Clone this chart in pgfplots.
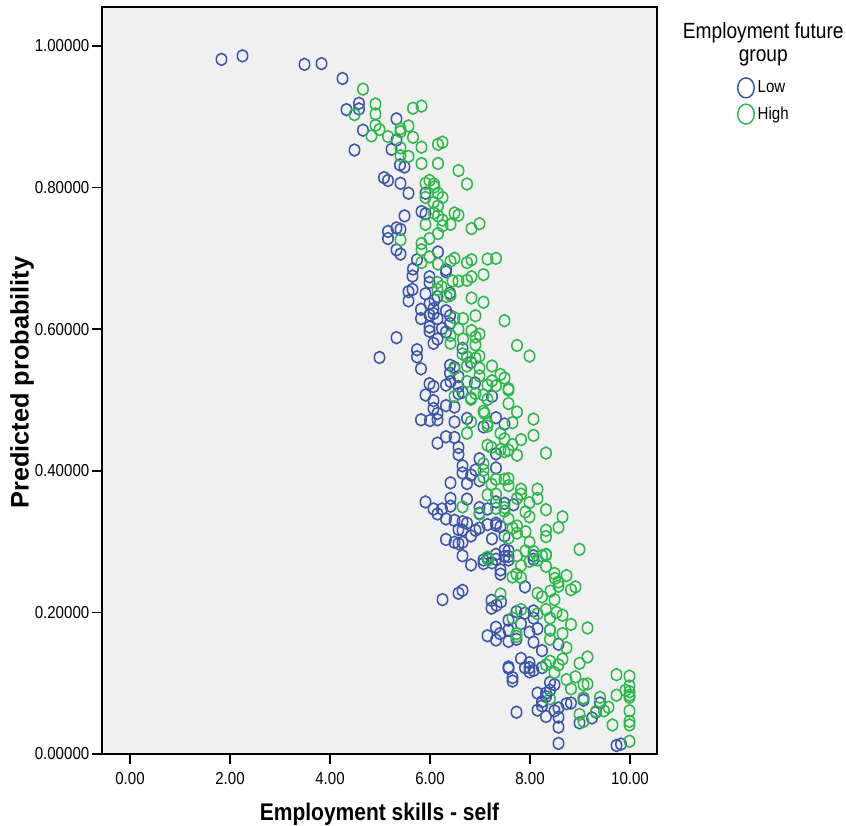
\documentclass[border=0pt]{standalone}
\usepackage{pgfplots}
\usepackage{fontspec}
\pgfplotsset{compat=1.18}
\setmainfont{Liberation Sans}[FakeStretch=0.87]
\newfontfamily\ylfont{Liberation Sans}[FakeStretch=1.0]
\definecolor{lowc}{HTML}{3B55A8}
\definecolor{highc}{HTML}{2DB84A}
\definecolor{bgc}{HTML}{F0F0F0}
\begin{document}
\begin{tikzpicture}
\useasboundingbox (0,0) rectangle (634.5pt,618.75pt);
\begin{axis}[
  at={(76.5pt,53.25pt)}, anchor=south west,
  scale only axis, width=416.25pt, height=560.25pt,
  xmin=-0.56, xmax=10.54, ymin=0, ymax=1.055,
  clip=false,
  axis background/.style={fill=bgc},
  axis line style={line width=1.1pt, black},
  tick style={line width=1.1pt, black},
  tick align=outside, major tick length=7.5pt,
  xtick={0,2,4,6,8,10}, ytick={0,0.2,0.4,0.6,0.8,1},
  xtick pos=bottom, ytick pos=left,
  xticklabel style={yshift=-2.5pt, /pgf/number format/.cd, fixed, fixed zerofill, precision=2, assume math mode=true},
  yticklabel style={xshift=1.5pt, /pgf/number format/.cd, fixed, fixed zerofill, precision=5, assume math mode=true},
  scaled y ticks=false,
  tick label style={font=\fontsize{13pt}{15pt}\selectfont},
  xlabel={\fontsize{18.1pt}{20pt}\selectfont\bfseries Employment skills - self},
  ylabel={\ylfont\fontsize{19pt}{21pt}\selectfont\bfseries Predicted probability},
  xlabel style={at={(axis description cs:0.5,0)}, anchor=center, yshift=-45pt},
  ylabel style={at={(axis description cs:0,0.497)}, anchor=center, yshift=60pt},
  legend style={at={(rel axis cs:1.1436,0.9065)}, anchor=north west, draw=none, fill=none,
    font=\fontsize{13pt}{15pt}\selectfont, row sep=3.6pt, inner sep=0pt},
  legend cell align=left,
  legend image code/.code={\draw[#1, solid, line width=1.1pt, fill=none] (0.25cm-3pt,0cm) ellipse [x radius=6.2pt, y radius=7.5pt];},
  every axis plot/.append style={only marks, mark=o, line width=1.15pt, mark size=4.5pt},
]
\addplot[color=lowc, mark options={xscale=0.87, yscale=1.0}] coordinates {
(1.83,0.981)(2.25,0.986)(3.49,0.974)(3.83,0.975)(4.25,0.954)(4.58,0.919)(4.58,0.911)(4.33,0.910)
(4.66,0.881)(4.49,0.853)(5.33,0.897)(5.33,0.867)(5.23,0.854)(5.40,0.832)(5.49,0.829)(5.08,0.814)
(5.16,0.810)(5.41,0.806)(5.57,0.792)(5.91,0.792)(5.83,0.766)(5.91,0.763)(5.49,0.760)(5.16,0.738)
(5.33,0.743)(5.41,0.741)(5.16,0.728)(5.33,0.712)(5.41,0.706)(6.16,0.709)(5.74,0.698)(5.66,0.685)
(6.32,0.684)(5.65,0.675)(6.32,0.681)(5.99,0.674)(5.99,0.666)(5.57,0.653)(5.65,0.656)(5.57,0.640)
(5.91,0.650)(6.15,0.646)(6.40,0.651)(6.09,0.641)(5.99,0.636)(5.82,0.628)(6.07,0.629)(6.32,0.626)
(6.40,0.619)(5.82,0.615)(5.99,0.620)(6.07,0.622)(6.15,0.615)(6.40,0.608)(5.99,0.603)(5.99,0.597)
(6.24,0.601)(6.32,0.596)(6.15,0.586)(6.07,0.580)(5.33,0.588)(4.99,0.560)(5.74,0.571)(5.74,0.561)
(5.82,0.544)(6.65,0.573)(6.40,0.549)(6.82,0.553)(6.49,0.546)(6.40,0.538)(6.57,0.533)(5.99,0.523)
(6.07,0.519)(6.32,0.521)(6.41,0.526)(6.90,0.524)(6.57,0.519)(6.57,0.509)(6.65,0.511)(5.91,0.507)
(6.07,0.499)(7.24,0.505)(6.07,0.488)(6.15,0.481)(6.32,0.492)(6.49,0.490)(5.82,0.472)(6.00,0.471)
(6.15,0.472)(6.49,0.469)(6.74,0.474)(7.32,0.475)(7.07,0.462)(7.49,0.466)(6.32,0.448)(6.49,0.447)
(6.15,0.439)(6.57,0.433)(6.57,0.423)(7.32,0.424)(6.99,0.417)(6.65,0.407)(6.65,0.397)(6.91,0.401)
(6.82,0.394)(6.99,0.386)(7.32,0.404)(6.41,0.383)(6.74,0.382)(6.41,0.361)(6.41,0.350)(6.74,0.360)
(5.91,0.356)(6.07,0.346)(6.24,0.346)(6.15,0.339)(6.32,0.332)(6.49,0.330)(6.65,0.328)(6.74,0.326)
(6.99,0.348)(6.99,0.340)(7.15,0.346)(7.32,0.356)(7.49,0.354)(7.67,0.352)(7.32,0.326)(7.15,0.324)
(7.32,0.323)(6.57,0.317)(6.65,0.316)(6.99,0.319)(6.91,0.316)(6.82,0.308)(6.32,0.303)(6.49,0.299)
(6.57,0.297)(6.65,0.299)(7.24,0.304)(7.49,0.308)(7.41,0.321)(6.65,0.280)(7.32,0.282)(7.49,0.288)
(7.57,0.287)(7.49,0.279)(7.57,0.279)(7.15,0.276)(8.07,0.280)(8.07,0.275)(7.07,0.274)(6.82,0.267)
(7.07,0.269)(7.24,0.270)(7.41,0.260)(7.41,0.254)(7.32,0.275)(7.57,0.274)(7.90,0.236)(6.57,0.227)
(6.65,0.231)(6.25,0.218)(7.23,0.217)(7.33,0.210)(7.23,0.206)(7.42,0.215)(7.73,0.201)(7.90,0.199)
(8.07,0.202)(8.07,0.192)(7.57,0.189)(7.82,0.184)(7.32,0.179)(7.57,0.175)(7.40,0.170)(7.15,0.167)
(7.32,0.161)(7.57,0.159)(7.73,0.162)(7.99,0.172)(8.15,0.177)(8.40,0.175)(8.07,0.158)(8.57,0.155)
(8.24,0.146)(7.82,0.135)(7.99,0.129)(7.57,0.123)(7.57,0.121)(7.90,0.122)(7.99,0.122)(7.99,0.116)
(8.07,0.118)(8.24,0.122)(7.65,0.108)(7.65,0.103)(8.40,0.101)(8.49,0.098)(8.15,0.086)(8.32,0.086)
(8.40,0.090)(8.32,0.081)(8.24,0.074)(8.24,0.068)(8.15,0.062)(8.32,0.053)(8.57,0.065)(8.49,0.061)
(8.57,0.052)(8.57,0.038)(8.57,0.015)(7.73,0.059)(8.73,0.071)(8.82,0.072)(9.07,0.079)(9.07,0.076)
(9.40,0.072)(9.32,0.059)(9.24,0.051)(8.99,0.044)(9.73,0.012)(9.82,0.014)
};
\addlegendentry{Low}
\addplot[color=highc, mark options={xscale=0.87, yscale=1.0}] coordinates {
(4.66,0.939)(4.91,0.918)(4.91,0.904)(4.49,0.903)(4.91,0.888)(4.99,0.882)(4.83,0.873)(5.16,0.872)
(5.41,0.883)(5.41,0.879)(5.57,0.887)(5.66,0.871)(5.66,0.912)(5.83,0.915)(5.41,0.856)(5.83,0.857)
(6.16,0.861)(6.25,0.864)(5.41,0.845)(5.57,0.844)(5.83,0.834)(6.16,0.834)(6.57,0.824)(6.74,0.805)
(5.91,0.806)(5.99,0.810)(6.08,0.805)(6.09,0.801)(5.91,0.786)(6.16,0.792)(6.25,0.786)(6.07,0.779)
(6.16,0.774)(6.49,0.764)(6.57,0.761)(6.08,0.764)(6.16,0.760)(6.25,0.754)(6.25,0.746)(6.41,0.748)
(5.91,0.748)(6.99,0.749)(6.83,0.742)(6.16,0.735)(5.99,0.728)(5.83,0.721)(5.41,0.726)(5.83,0.712)
(5.83,0.694)(5.99,0.702)(6.16,0.692)(6.41,0.696)(6.49,0.700)(6.74,0.694)(6.83,0.698)(7.15,0.699)
(7.32,0.700)(7.07,0.677)(6.83,0.674)(6.74,0.669)(6.57,0.668)(6.45,0.668)(6.15,0.666)(6.23,0.660)
(6.15,0.656)(6.41,0.648)(6.33,0.646)(6.83,0.644)(7.07,0.638)(6.91,0.619)(6.66,0.615)(6.49,0.616)
(7.49,0.612)(6.57,0.600)(6.83,0.598)(6.99,0.593)(6.91,0.589)(6.41,0.591)(6.66,0.586)(6.41,0.580)
(6.91,0.578)(7.74,0.577)(7.99,0.562)(6.99,0.562)(6.65,0.565)(6.74,0.561)(6.91,0.559)(7.24,0.548)
(6.99,0.545)(6.74,0.548)(6.49,0.544)(7.41,0.536)(7.49,0.531)(7.24,0.527)(6.99,0.534)(6.74,0.526)
(7.15,0.521)(7.32,0.520)(7.57,0.516)(7.57,0.514)(6.91,0.509)(7.07,0.507)(6.49,0.505)(6.82,0.503)
(7.15,0.501)(7.57,0.495)(6.82,0.501)(7.74,0.483)(7.07,0.484)(7.09,0.481)(8.07,0.473)(7.65,0.468)
(6.82,0.469)(7.15,0.463)(7.15,0.467)(6.74,0.453)(7.41,0.453)(7.49,0.445)(8.07,0.450)(7.82,0.444)
(7.65,0.437)(7.15,0.436)(7.23,0.433)(7.41,0.430)(7.49,0.427)(7.57,0.429)(7.74,0.422)(8.32,0.425)
(7.07,0.410)(7.07,0.401)(7.07,0.391)(7.32,0.388)(7.49,0.388)(7.57,0.389)(7.57,0.379)(7.23,0.381)
(7.32,0.367)(7.15,0.366)(7.82,0.374)(7.82,0.367)(8.15,0.374)(8.15,0.361)(7.74,0.361)(7.99,0.355)
(6.65,0.349)(6.99,0.339)(7.32,0.347)(7.49,0.348)(7.49,0.343)(8.32,0.345)(7.91,0.342)(7.99,0.335)
(7.57,0.332)(8.65,0.335)(8.57,0.320)(8.32,0.316)(8.32,0.307)(7.65,0.319)(7.74,0.322)(7.74,0.312)
(7.91,0.314)(7.57,0.305)(7.99,0.299)(8.99,0.289)(7.91,0.287)(8.07,0.286)(8.32,0.282)(8.24,0.280)
(7.74,0.280)(7.15,0.278)(7.17,0.274)(8.32,0.265)(7.82,0.266)(7.99,0.272)(8.15,0.274)(8.32,0.281)
(7.65,0.250)(7.73,0.254)(7.82,0.249)(8.49,0.255)(8.50,0.248)(8.73,0.252)(8.57,0.243)(8.57,0.237)
(8.91,0.236)(8.82,0.232)(8.41,0.230)(8.15,0.227)(8.24,0.222)(8.49,0.218)(7.41,0.226)(7.82,0.204)
(8.32,0.204)(8.53,0.200)(8.15,0.198)(8.65,0.196)(8.40,0.192)(7.65,0.192)(8.82,0.183)(9.15,0.178)
(8.65,0.170)(8.40,0.175)(8.40,0.162)(7.73,0.170)(7.73,0.166)(8.73,0.150)(9.15,0.137)(8.99,0.128)
(8.65,0.134)(8.57,0.126)(8.40,0.131)(8.32,0.126)(8.49,0.115)(9.73,0.112)(9.99,0.110)(8.91,0.109)
(8.73,0.105)(9.07,0.098)(9.15,0.099)(8.82,0.092)(9.07,0.079)(9.99,0.096)(9.91,0.090)(9.99,0.088)
(9.99,0.083)(9.99,0.080)(9.73,0.083)(9.40,0.080)(9.57,0.066)(9.48,0.061)(9.32,0.060)(9.99,0.061)
(8.99,0.056)(9.07,0.046)(9.65,0.041)(9.99,0.046)(9.99,0.041)(9.99,0.018)(8.40,0.078)
};
\addlegendentry{High}
\node[align=center, font=\fontsize{16.5pt}{17.3pt}\selectfont, anchor=center] at (rel axis cs:1.1915,0.9505) {Employment future\\group};
\end{axis}
\end{tikzpicture}
\end{document}
